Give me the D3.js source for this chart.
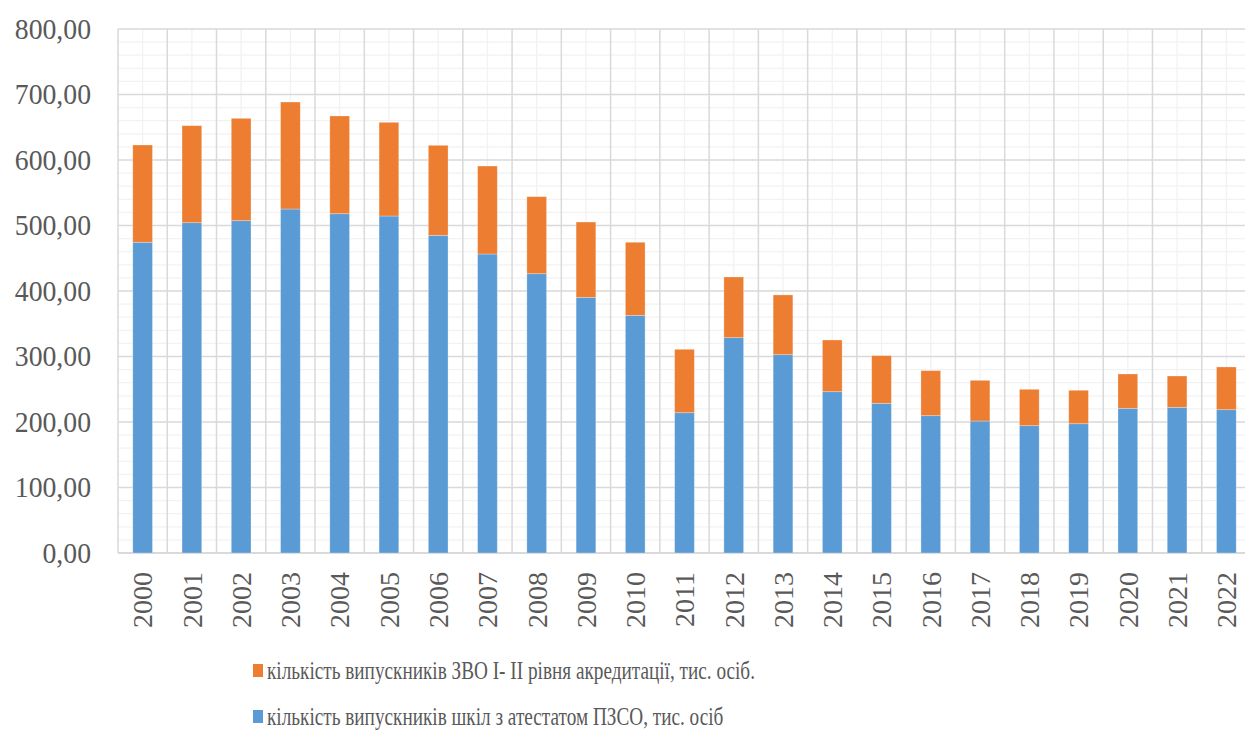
<!DOCTYPE html>
<html><head><meta charset="utf-8">
<script src="https://cdn.jsdelivr.net/npm/d3@7"></script>
<style>body{margin:0;background:#fff}svg{display:block}</style>
</head><body>
<svg id="c" width="1245" height="734"></svg>
<script>
const years = ["2000","2001","2002","2003","2004","2005","2006","2007","2008","2009","2010","2011","2012","2013","2014","2015","2016","2017","2018","2019","2020","2021","2022"];
const schools = [474.4,504.3,507.4,525.2,518.0,514.5,485.0,456.5,426.4,390.3,362.8,214.2,328.8,302.8,246.3,228.5,209.7,201.5,194.4,197.4,220.9,222.4,218.8];
const colleges = [148.5,148.1,156.2,163.3,149.2,143.0,137.4,134.3,117.6,115.0,111.6,96.8,92.6,91.2,78.9,72.8,68.7,62.1,55.5,51.0,52.4,47.8,65.2];
const yTicks = [0,100,200,300,400,500,600,700,800];
const seriesNames = ["кількість випускників ЗВО I- II рівня акредитації, тис. осіб.","кількість випускників шкіл з атестатом ПЗСО, тис. осіб"];
const colors = {schools:"#5B9BD5", colleges:"#ED7D31"};

(function(){
const svg = d3.select("#c").attr("font-family","Liberation Serif");
const pLeft = 118, pTop = 29, pBottom = 553;
const step = 49.26;
const pRight = pLeft + step * years.length;
const x = d3.scaleBand().domain(years).range([pLeft, pRight]).paddingInner(0.6).paddingOuter(0.3);
const y = d3.scaleLinear().domain([0,800]).range([pBottom, pTop]);

const g = svg.append("g");
g.selectAll(".hmin").data(d3.range(0,801,20).filter(v=>v%100!==0)).join("line")
  .attr("x1",pLeft).attr("x2",pRight).attr("y1",d=>y(d)).attr("y2",d=>y(d))
  .attr("stroke","#f2f2f2").attr("stroke-width",1.3);
g.selectAll(".vmin").data(years).join("line")
  .attr("x1",d=>x(d)+x.bandwidth()/2).attr("x2",d=>x(d)+x.bandwidth()/2)
  .attr("y1",pTop).attr("y2",pBottom).attr("stroke","#f2f2f2").attr("stroke-width",1.3);
g.selectAll(".hmaj").data(yTicks).join("line")
  .attr("x1",pLeft).attr("x2",pRight).attr("y1",d=>y(d)).attr("y2",d=>y(d))
  .attr("stroke","#d9d9d9").attr("stroke-width",1.5);
const bounds = d3.range(years.length+1).map(i=>pLeft+i*step);
g.selectAll(".vmaj").data(bounds).join("line")
  .attr("x1",d=>d).attr("x2",d=>d).attr("y1",pTop).attr("y2",pBottom)
  .attr("stroke","#d9d9d9").attr("stroke-width",1.5);
g.append("line").attr("x1",pLeft).attr("x2",pRight).attr("y1",pBottom).attr("y2",pBottom)
  .attr("stroke","#d9d9d9").attr("stroke-width",2);

const stackData = years.map((yr,i)=>({year:yr, schools:schools[i], colleges:colleges[i]}));
const stack = d3.stack().keys(["schools","colleges"])(stackData);
svg.append("g").selectAll("g").data(stack).join("g")
  .attr("fill",d=>colors[d.key])
  .selectAll("rect").data(d=>d).join("rect")
  .attr("x",d=>x(d.data.year)).attr("width",x.bandwidth())
  .attr("y",d=>y(d[1])).attr("height",d=>y(d[0])-y(d[1]))
  .attr("stroke","rgba(255,255,255,0.35)").attr("stroke-width",0.8);

svg.append("g").selectAll("text").data(yTicks).join("text")
  .attr("transform",d=>`translate(91,${y(d)}) scale(0.94,1)`)
  .attr("dy","0.33em").attr("text-anchor","end")
  .attr("font-family","Liberation Serif").attr("font-size",29.5).attr("fill","#595959")
  .text(d=>d3.format(".2f")(d).replace(".",","));

svg.append("g").selectAll("text").data(years).join("text")
  .attr("transform",d=>`translate(${x(d)+x.bandwidth()/2},572) rotate(-90)`)
  .attr("dy","0.35em").attr("text-anchor","end")
  .attr("font-family","Liberation Serif").attr("font-size",28).attr("fill","#595959")
  .text(d=>d);

const leg = svg.append("g");
const legItems = [{name:seriesNames[0], color:colors.colleges, yb:679},{name:seriesNames[1], color:colors.schools, yb:725}];
legItems.forEach(it=>{
  leg.append("rect").attr("x",253).attr("y",it.yb-15).attr("width",10).attr("height",13).attr("fill",it.color);
  leg.append("text").attr("transform",`translate(267,${it.yb}) scale(0.74,1)`)
    .attr("font-family","Liberation Serif").attr("font-size",26)
    .attr("fill","#595959").text(it.name);
});
})();
</script>
</body></html>
